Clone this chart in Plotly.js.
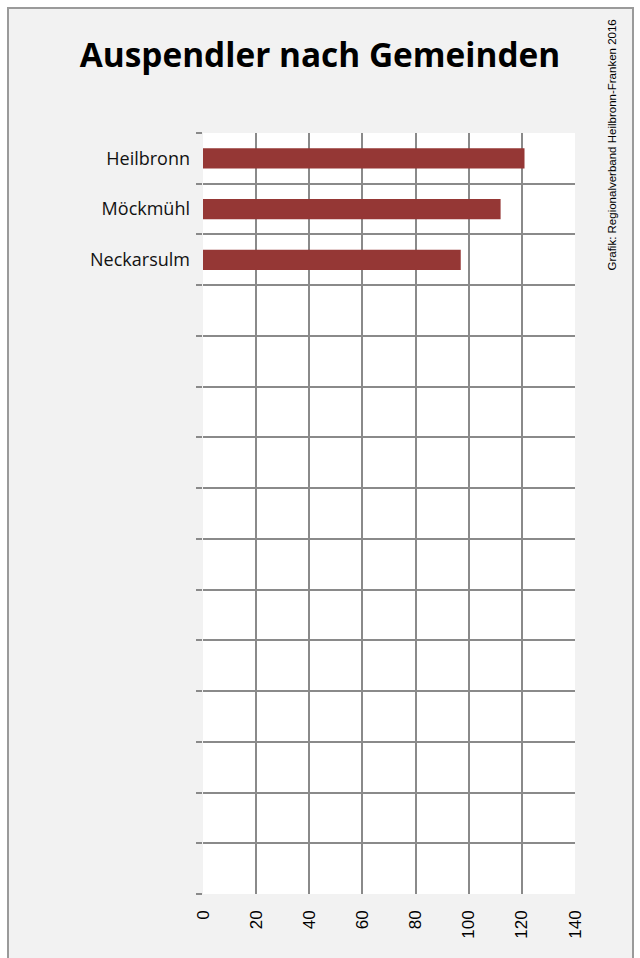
<!DOCTYPE html>
<html><head><meta charset="utf-8">
<script src="https://cdn.plot.ly/plotly-3.0.1.min.js"></script>
<style>
html,body{margin:0;padding:0;background:#fff;width:640px;height:958px;overflow:hidden}
#frame{position:absolute;left:7px;top:7px;width:623px;height:980px;border:2px solid #9a9a9a;background:#f2f2f2}
#chart{position:absolute;left:0;top:0;width:640px;height:958px}
</style></head><body><div id="frame"></div><div id="chart"></div>
<script>
const categories = ["Heilbronn", "Möckmühl", "Neckarsulm"];
const values = [121, 112, 97];
const slotCount = 15;
const xTicks = [0, 20, 40, 60, 80, 100, 120, 140];
const titleText = "Auspendler nach Gemeinden";
const creditText = "Grafik: Regionalverband Heilbronn-Franken 2016";

const yPos = categories.map((c, i) => i);
const boundaries = Array.from({length: slotCount + 1}, (_, i) => i - 0.5);
const gridCol = '#8a8a8a';

const trace = {
  type: 'bar', orientation: 'h',
  x: values, y: yPos,
  marker: {color: '#953735', line: {width: 0}},
  width: 0.4, hoverinfo: 'skip'
};

const layout = {
  width: 640, height: 958,
  margin: {l: 203, r: 65, t: 133, b: 64},
  paper_bgcolor: 'rgba(0,0,0,0)', plot_bgcolor: '#ffffff',
  showlegend: false, hovermode: false,
  title: {text: '<b>' + titleText + '</b>', xref: 'container', x: 0.5, xanchor: 'center',
          yref: 'container', y: 1 - 55/958, yanchor: 'middle',
          font: {family: 'Open Sans', size: 33.4, color: '#000'}},
  xaxis: {range: [0, 140], tickmode: 'array', tickvals: xTicks, tickangle: -90,
          showgrid: true, gridcolor: gridCol, gridwidth: 2, zeroline: false, showline: false,
          ticks: '', ticklabelstandoff: 12,
          tickfont: {family: 'Liberation Sans', size: 17, color: '#000'}, fixedrange: true},
  yaxis: {range: [slotCount - 0.5, -0.5], tickmode: 'array', tickvals: yPos, ticktext: categories,
          showgrid: false, zeroline: false, showline: false, ticks: '', ticklabelstandoff: 12,
          tickfont: {family: 'Open Sans', size: 18, color: '#111'},
          minor: {tickmode: 'array', tickvals: boundaries, showgrid: true, gridcolor: gridCol, gridwidth: 2,
                  ticks: 'outside', ticklen: 6, tickwidth: 2, tickcolor: gridCol},
          fixedrange: true},
  annotations: [{text: creditText, textangle: -90, showarrow: false,
                 xref: 'paper', x: 1 + (611 - 575) / 372, xanchor: 'center',
                 yref: 'paper', y: 1 + (133 - 18) / 761, yanchor: 'top',
                 font: {family: 'Liberation Sans', size: 11.5, color: '#000'}}]
};

Plotly.newPlot('chart', [trace], layout, {staticPlot: true, displayModeBar: false});
</script></body></html>
